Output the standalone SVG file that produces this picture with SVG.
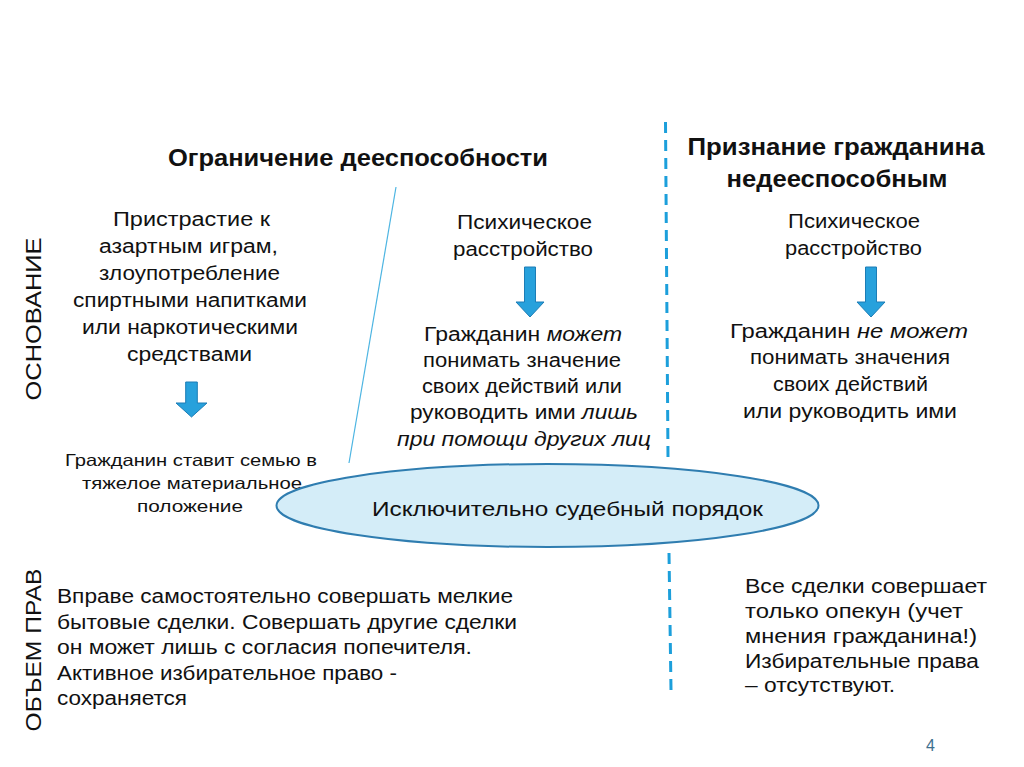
<svg xmlns="http://www.w3.org/2000/svg" width="1024" height="767" viewBox="0 0 1024 767">
<style>
text{font-family:"Liberation Sans",Arial,sans-serif;fill:#111;}
.t{font-size:23px;font-weight:bold;text-anchor:middle;}
.c{font-size:20px;text-anchor:middle;}
.s{font-size:16.5px;text-anchor:middle;}
.l{font-size:19.5px;}
.r{font-size:20px;}
.v{font-size:22px;text-anchor:middle;}
.i{font-style:italic;}
.arrow{fill:#27a1dc;stroke:#1c7db6;stroke-width:1;}
.dash{stroke:#1c9fdb;stroke-width:3;stroke-dasharray:11 7;fill:none;}
</style>
<rect x="0" y="0" width="1024" height="767" fill="#ffffff"/>
<g id="connectors">
<line x1="396" y1="187" x2="349" y2="463" stroke="#4db5e2" stroke-width="1.2"/>
<line class="dash" x1="665.5" y1="122" x2="668" y2="458"/>
<line class="dash" x1="669" y1="553" x2="671" y2="690"/>
<path class="arrow" d="M185.7,382 H197.3 V403 H207 L191.5,417 L176,403 H185.7 Z"/>
<path class="arrow" d="M524.5,267 H535.5 V302 H544 L530,317 L516,302 H524.5 Z"/>
<path class="arrow" d="M865.5,267 H876.5 V302 H885 L871,317 L857,302 H865.5 Z"/>
</g>
<g id="title-left">
<text class="t" x="358" y="166" textLength="380" lengthAdjust="spacingAndGlyphs">Ограничение дееспособности</text>
</g>
<g id="title-right">
<text class="t" x="836" y="155" textLength="297" lengthAdjust="spacingAndGlyphs">Признание гражданина</text>
<text class="t" x="837" y="187" textLength="221" lengthAdjust="spacingAndGlyphs">недееспособным</text>
</g>
<g id="label-osnovanie">
<text class="v" transform="translate(41,319) rotate(-90)" x="0" y="0" textLength="163" lengthAdjust="spacingAndGlyphs">ОСНОВАНИЕ</text>
</g>
<g id="label-obem">
<text class="v" transform="translate(41,650) rotate(-90)" x="0" y="0" textLength="163" lengthAdjust="spacingAndGlyphs">ОБЪЕМ ПРАВ</text>
</g>
<g id="left-basis">
<text class="c" x="191.5" y="226" textLength="157" lengthAdjust="spacingAndGlyphs">Пристрастие к</text>
<text class="c" x="188.5" y="253" textLength="179" lengthAdjust="spacingAndGlyphs">азартным играм,</text>
<text class="c" x="189.5" y="280" textLength="181" lengthAdjust="spacingAndGlyphs">злоупотребление</text>
<text class="c" x="190" y="307" textLength="234" lengthAdjust="spacingAndGlyphs">спиртными напитками</text>
<text class="c" x="190" y="334" textLength="216" lengthAdjust="spacingAndGlyphs">или наркотическими</text>
<text class="c" x="189.5" y="361" textLength="125" lengthAdjust="spacingAndGlyphs">средствами</text>
</g>
<g id="left-consequence">
<text class="s" x="191" y="466" textLength="252" lengthAdjust="spacingAndGlyphs">Гражданин ставит семью в</text>
<text class="s" x="192" y="489" textLength="220" lengthAdjust="spacingAndGlyphs">тяжелое материальное</text>
<text class="s" x="190" y="512" textLength="106" lengthAdjust="spacingAndGlyphs">положение</text>
</g>
<g id="mid-basis">
<text class="c" x="524.5" y="229" textLength="135" lengthAdjust="spacingAndGlyphs">Психическое</text>
<text class="c" x="523" y="256" textLength="140" lengthAdjust="spacingAndGlyphs">расстройство</text>
</g>
<g id="mid-consequence">
<text class="c" x="523" y="341" textLength="198" lengthAdjust="spacingAndGlyphs">Гражданин <tspan class="i">может</tspan></text>
<text class="c" x="522" y="367" textLength="198" lengthAdjust="spacingAndGlyphs">понимать значение</text>
<text class="c" x="522" y="393" textLength="200" lengthAdjust="spacingAndGlyphs">своих действий или</text>
<text class="c" x="524" y="419" textLength="228" lengthAdjust="spacingAndGlyphs">руководить ими <tspan class="i">лишь</tspan></text>
<text class="c i" x="524" y="446" textLength="254" lengthAdjust="spacingAndGlyphs">при помощи других лиц</text>
</g>
<g id="right-basis">
<text class="c" x="854" y="228" textLength="132" lengthAdjust="spacingAndGlyphs">Психическое</text>
<text class="c" x="853.5" y="255" textLength="137" lengthAdjust="spacingAndGlyphs">расстройство</text>
</g>
<g id="right-consequence">
<text class="c" x="849" y="338" textLength="238" lengthAdjust="spacingAndGlyphs">Гражданин <tspan class="i">не может</tspan></text>
<text class="c" x="850" y="364" textLength="200" lengthAdjust="spacingAndGlyphs">понимать значения</text>
<text class="c" x="850.5" y="391" textLength="155" lengthAdjust="spacingAndGlyphs">своих действий</text>
<text class="c" x="850" y="418" textLength="214" lengthAdjust="spacingAndGlyphs">или руководить ими</text>
</g>
<g id="court-order">
<ellipse cx="547.5" cy="505.5" rx="271" ry="41.5" fill="#d4edf8" stroke="#2f7db0" stroke-width="2"/>
<text class="c" x="567.5" y="516" style="font-size:21px" textLength="391" lengthAdjust="spacingAndGlyphs">Исключительно судебный порядок</text>
</g>
<g id="rights-left">
<text class="l" x="57" y="603" textLength="456" lengthAdjust="spacingAndGlyphs">Вправе самостоятельно совершать мелкие</text>
<text class="l" x="57" y="629" textLength="460" lengthAdjust="spacingAndGlyphs">бытовые сделки. Совершать другие сделки</text>
<text class="l" x="57" y="654" textLength="415" lengthAdjust="spacingAndGlyphs">он может лишь с согласия попечителя.</text>
<text class="l" x="57" y="680" textLength="340" lengthAdjust="spacingAndGlyphs">Активное избирательное право -</text>
<text class="l" x="57" y="705" textLength="130" lengthAdjust="spacingAndGlyphs">сохраняется</text>
</g>
<g id="rights-right">
<text class="r" x="745" y="593" textLength="242" lengthAdjust="spacingAndGlyphs">Все сделки совершает</text>
<text class="r" x="745" y="618" textLength="218" lengthAdjust="spacingAndGlyphs">только опекун (учет</text>
<text class="r" x="745" y="643" textLength="232" lengthAdjust="spacingAndGlyphs">мнения гражданина!)</text>
<text class="r" x="745" y="668" textLength="234" lengthAdjust="spacingAndGlyphs">Избирательные права</text>
<text class="r" x="745" y="692" textLength="150" lengthAdjust="spacingAndGlyphs">– отсутствуют.</text>
</g>
<g id="page-number">
<text x="926" y="751" style="font-size:16px;fill:#3d6f8e;">4</text>
</g>
</svg>
